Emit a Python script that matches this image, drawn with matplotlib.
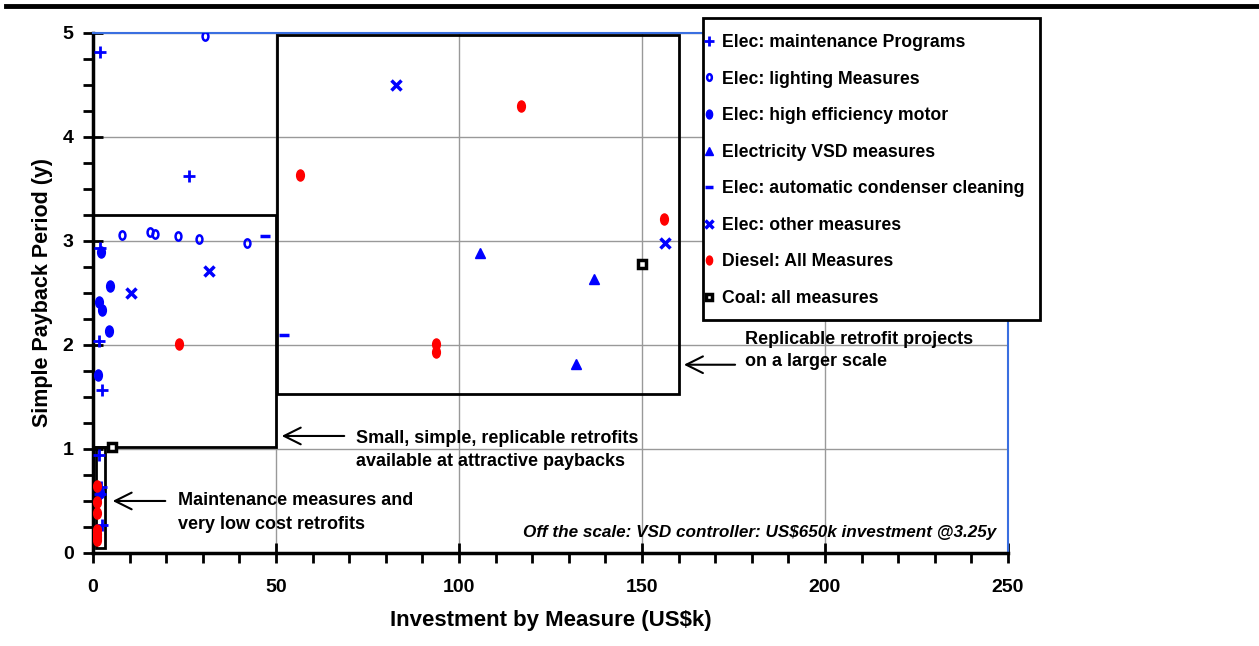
import numpy as np
import matplotlib.pyplot as plt
from matplotlib.patches import Rectangle
from matplotlib.path import Path
from matplotlib.transforms import Affine2D
from matplotlib.lines import Line2D
from matplotlib.ticker import MultipleLocator

plt.rcParams['font.family'] = ['Liberation Sans', 'DejaVu Sans']
plt.rcParams['font.weight'] = 'bold'

# investment (US$k) and simple payback (years) per measure type
maint_x = [1.9, 26.2, 2.0, 1.6, 2.5, 1.6, 2.2, 1.9, 2.5]
maint_y = [4.82, 3.62, 2.93, 2.04, 1.57, 0.94, 0.63, 0.57, 0.27]

light_x = [30.6, 7.9, 15.6, 16.9, 23.2, 29.0, 42.0]
light_y = [4.97, 3.06, 3.09, 3.07, 3.05, 3.02, 2.98]

motor_x = [2.2, 4.6, 1.6, 2.5, 4.4, 1.4, 2.0]
motor_y = [2.89, 2.57, 2.41, 2.34, 2.13, 1.71, 0.58]

vsd_x = [105.7, 136.9, 132.0]
vsd_y = [2.88, 2.63, 1.82]

cond_x = [47.0, 52.2]
cond_y = [3.05, 2.10]

other_x = [10.4, 31.7, 82.8, 156.3]
other_y = [2.50, 2.71, 4.50, 2.98]

diesel_x = [23.5, 56.6, 117.0, 156.0, 93.7, 93.7, 1.1, 1.1, 1.1, 1.0, 1.0, 1.1, 1.0]
diesel_y = [2.01, 3.63, 4.30, 3.21, 2.01, 1.93, 0.64, 0.49, 0.38, 0.22, 0.18, 0.15, 0.12]

coal_x = [150.0, 5.2]
coal_y = [2.78, 1.02]

blue = '#0000ff'
ellipse = Path.unit_circle().transformed(Affine2D().scale(0.7, 1.0))

fig = plt.figure(figsize=(12.59, 6.46), dpi=100)
ax = fig.add_axes([0.0739, 0.144, 0.7267, 0.805])

# boxes grouping the measures
ax.add_patch(Rectangle((0.7, 0.05), 2.7, 0.97, fill=False, ec='black', lw=2, zorder=3))
ax.add_patch(Rectangle((0, 1.02), 50, 2.23, fill=False, ec='black', lw=2, zorder=3))
ax.add_patch(Rectangle((50.3, 1.53), 109.7, 3.45, fill=False, ec='black', lw=2, zorder=3))

ax.plot(maint_x, maint_y, ls='none', marker='+', ms=9, mew=2, color=blue, zorder=4,
        label='Elec: maintenance Programs')
ax.plot(light_x, light_y, ls='none', marker=ellipse, ms=6, mew=1.8, mfc='none', mec=blue, zorder=4,
        label='Elec: lighting Measures')
ax.plot(motor_x, motor_y, ls='none', marker=ellipse, ms=8, color=blue, zorder=4,
        label='Elec: high efficiency motor')
ax.plot(vsd_x, vsd_y, ls='none', marker='^', ms=7, color=blue, zorder=4,
        label='Electricity VSD measures')
ax.plot(cond_x, cond_y, ls='none', marker='_', ms=7, mew=2.5, color=blue, zorder=4,
        label='Elec: automatic condenser cleaning')
ax.plot(other_x, other_y, ls='none', marker='x', ms=7, mew=2.5, color=blue, zorder=4,
        label='Elec: other measures')
ax.plot(diesel_x, diesel_y, ls='none', marker=ellipse, ms=8, color='red', zorder=4,
        label='Diesel: All Measures')
ax.plot(coal_x, coal_y, ls='none', marker='s', ms=5.5, mew=2.5, mfc='white', mec='black', zorder=4,
        label='Coal: all measures')

ax.set_xlim(0, 250)
ax.set_ylim(0, 5)
ax.xaxis.set_major_locator(MultipleLocator(50))
ax.xaxis.set_minor_locator(MultipleLocator(10))
ax.yaxis.set_major_locator(MultipleLocator(1))
ax.yaxis.set_minor_locator(MultipleLocator(0.25))
ax.tick_params(which='major', direction='inout', length=14, width=2, labelsize=14)
ax.tick_params(axis='x', which='major', pad=12)
ax.tick_params(axis='y', which='major', pad=7)
ax.tick_params(which='minor', direction='out', length=7, width=2)
ax.grid(which='major', color='#999999', lw=1, zorder=0)

for s in ['left', 'bottom']:
    ax.spines[s].set_linewidth(2.5)
for s in ['top', 'right']:
    ax.spines[s].set_color('#3a6fe0')
    ax.spines[s].set_linewidth(1.5)

ax.set_xlabel('Investment by Measure (US$k)', fontsize=16, fontweight='bold', labelpad=10)
ax.set_ylabel('Simple Payback Period (y)', fontsize=15.5, fontweight='bold', labelpad=7)

# notes and arrows
arw = dict(arrowstyle='->', lw=1.5, color='black', mutation_scale=30)
ax.annotate('', xy=(4.6, 0.5), xytext=(20.5, 0.5), arrowprops=arw)
ax.text(23.2, 0.39, 'Maintenance measures and\nvery low cost retrofits', fontsize=13,
        va='center', ha='left', linespacing=1.5)
ax.annotate('', xy=(50.8, 1.125), xytext=(69.4, 1.125), arrowprops=arw)
ax.text(71.9, 0.99, 'Small, simple, replicable retrofits\navailable at attractive paybacks', fontsize=13,
        va='center', ha='left', linespacing=1.45)
ax.annotate('', xy=(160.7, 1.81), xytext=(176.2, 1.81), arrowprops=arw)
ax.text(178.1, 1.95, 'Replicable retrofit projects\non a larger scale', fontsize=13,
        va='center', ha='left', linespacing=1.4)
ax.text(246.7, 0.2, 'Off the scale: VSD controller: US$650k investment @3.25y', fontsize=12.3,
        style='italic', va='center', ha='right')

# legend box drawn separately so its size can be set exactly
fig.add_artist(Rectangle((703 / 1259, 1 - 320 / 646), 337 / 1259, 302 / 646, transform=fig.transFigure,
                         fc='white', ec='black', lw=2, zorder=4.5))
leg = fig.legend(loc='upper left', bbox_to_anchor=(705 / 1259, 1 - 34 / 646), frameon=False,
                 fontsize=12.7, handlelength=0.5, handletextpad=0.45, labelspacing=1.11,
                 borderpad=0, borderaxespad=0, markerscale=0.8)

fig.add_artist(Line2D([0.005, 1], [0.9907, 0.9907], transform=fig.transFigure, color='black', lw=3.5))

fig.savefig('out.png', dpi=100)
